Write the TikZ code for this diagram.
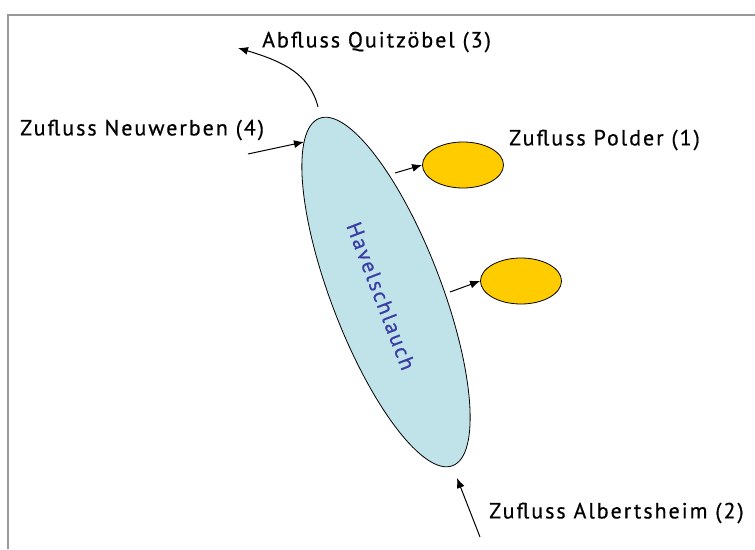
\documentclass[tikz,border=0pt]{standalone}
\usepackage{fontspec}
\setmainfont{PT Sans}[LetterSpace=9,FakeBold=0.6]
\usetikzlibrary{arrows.meta,shapes.geometric}
\definecolor{frame}{HTML}{999999}
\definecolor{hsblue}{HTML}{BFE3E9}
\definecolor{hstext}{HTML}{3B3BA6}
\definecolor{polder}{HTML}{FFCC00}
\tikzset{
  lbl/.style={anchor=west, inner sep=0pt, font=\fontsize{22}{26}\selectfont},
  flow/.style={-{Latex[length=10pt,width=8pt]}, line width=1pt},
  pold/.style={ellipse, draw=black, line width=0.8pt, fill=polder, minimum width=81pt, minimum height=46pt, inner sep=0pt}
}
\begin{document}
\begin{tikzpicture}[x=1pt,y=-1pt]
\useasboundingbox (0,0) rectangle (755,549);
% frame
\draw[frame, line width=2pt] (8,549) -- (8,14.5) -- (756,14.5);
% main ellipse
\node[ellipse, draw=black, line width=0.8pt, fill=hsblue, minimum width=372pt, minimum height=110pt, inner sep=0pt, rotate=-69] (hs) at (386,292) {};
\node[rotate=-69, text=hstext, font=\fontsize{21.5}{25}\selectfont] (hst) at (381,296) {Havelschlauch};
% polder ellipses
\node[pold] (p1) at (463,165) {};
\node[pold] (p2) at (521,281) {};
% labels
\node[lbl] (l3) at (262,42) {Abfluss Quitzöbel (3)};
\node[lbl] (l4) at (20,130) {Zufluss Neuwerben (4)};
\node[lbl] (l1) at (509,140) {Zufluss Polder (1)};
\node[lbl] (l2) at (489,513) {Zufluss Albertsheim (2)};
% connector end points
\coordinate (a3s) at (318,107);
\coordinate (a3e) at (238,48);
\coordinate (a4s) at (248,154);
\coordinate (a4e) at (304,142);
\coordinate (a1s) at (395,173);
\coordinate (a5s) at (450,292);
\coordinate (a2s) at (480,537);
\coordinate (a2e) at (457,478);
% connectors
\draw[flow] (a3s) .. controls (310,75) and (285,62) .. (a3e);
\draw[flow] (a4s) -- (a4e);
\draw[flow] (a1s) -- (p1.west);
\draw[flow] (a5s) -- (p2.west);
\draw[flow] (a2s) -- (a2e);
\end{tikzpicture}
\end{document}
